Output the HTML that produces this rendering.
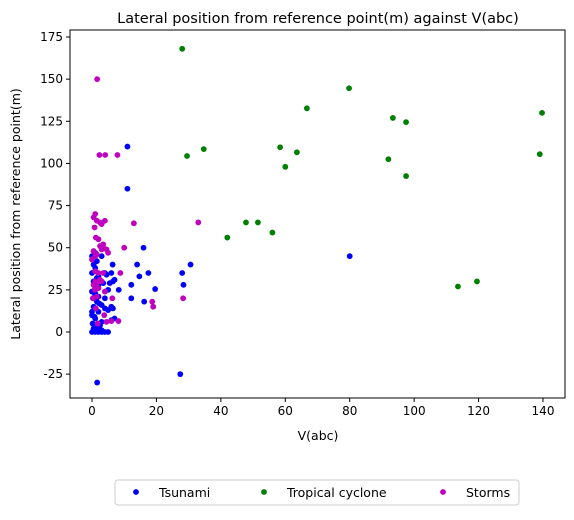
<!DOCTYPE html>
<html><head><meta charset="utf-8"><style>
body{margin:0;background:#fff;font-family:"Liberation Sans","DejaVu Sans",sans-serif}
svg text{font-family:"DejaVu Sans","Liberation Sans",sans-serif}
</style></head><body>
<svg id="chart" width="574" height="515"></svg>
<script>
const tsunamiX=[11,11,16,6.4,14,17.5,14.7,12.2,19.6,8.3,12.2,16.2,6,6.5,7,30.6,28,28.4,27.4,1.6,80,0,1,2,3,4,5,0.5,1.5,2.5,0,1,2,3,4,5,6,0.5,1.5,3,0.3,1,2,4,0,1,2,3,5,0.5,1.8,0,1,2,4,6,0.5,1.5,3,0,1,0.2,1.2,2,3,1,0,0.8,2.2,1,3.5,1.5,4.5,6.5,5.5,7];
const tsunamiY=[110,85,50,40,40,35,33,28,25.5,25,20,18,15,14,8,40,35,28,-25,-30,45,0,0,0,0,0,0,2,3,4,10,8,12,6,14,13,7,15,18,16,20,22,21,20,24,26,28,30,25,30,27,35,36,33,35,35,40,42,45,45,47,5,4,2,1,38,12,9,17,23,29,32,34,30,29,31];
const tcX=[28,79.8,66.7,139.7,93.4,97.5,58.4,34.7,29.5,63.6,60,92,97.5,139,42,47.8,51.5,56,113.6,119.5];
const tcY=[168,144.6,132.7,130,127,124.5,109.6,108.5,104.4,106.6,98,102.5,92.5,105.5,56,65,65,59,27,30];
const stormX=[1.6,2.3,4.1,7.9,33,13,10,8.8,6.3,18.7,19,28.3,6,8.2,1,0.5,1.5,2.5,3,4,0.8,1.2,2,3,3.5,0.5,1,1.5,2.5,3.5,4.5,5,0,1,2,3.5,1,2.5,0.5,1.5,3,0.8,2,4,0.3,1.5,1.2,1.8,3.8,4.5];
const stormY=[150,105,105,105,65,64.5,50,35,20,18,15,20,6.5,6.5,70,68,66,65,64,66,62,56,55,49,50,48,45,46,51,52,49,47,43,36,35,35,30,31,28,29,30,25,26,24,20,21,14,5,10,6];
const xTicks=[0,20,40,60,80,100,120,140];
const yTicks=[-25,0,25,50,75,100,125,150,175];
const NS="http://www.w3.org/2000/svg";
const svg=document.getElementById('chart');
const L=70,R=565,T=30,B=398;
const xs=v=>92+v*(543-92)/140;
const ys=v=>332-v*(295/175);
function el(t,a,p){const e=document.createElementNS(NS,t);for(const k in a)e.setAttribute(k,a[k]);(p||svg).appendChild(e);return e;}
const title=el('text',{x:318,y:23,'text-anchor':'middle','font-size':14.5,fill:'#000'});


title.textContent='Lateral position from reference point(m) against V(abc)';
xTicks.forEach(v=>{
  const l=el('line',{x1:xs(v),x2:xs(v),y1:B,y2:B+4,stroke:'#000'});
  
  
  const t=el('text',{x:xs(v),y:B+17,'text-anchor':'middle','font-size':12});
  
  
  t.textContent=v;
});
yTicks.forEach(v=>{
  const l=el('line',{x1:L-4,x2:L,y1:ys(v),y2:ys(v),stroke:'#000'});
  
  
  const t=el('text',{x:L-7,y:ys(v)+4,'text-anchor':'end','font-size':12});
  
  
  t.textContent=v;
});
const xl=el('text',{x:318,y:440,'text-anchor':'middle','font-size':12.5});


xl.textContent='V(abc)';
const yl=el('text',{x:0,y:0,'text-anchor':'middle','font-size':12.5,transform:'translate(20,214) rotate(-90)'});


yl.textContent='Lateral position from reference point(m)';
function series(X,Y,c,name){
  const g=el('g',{fill:c});
  
  
  X.forEach((x,i)=>{
    const p=el('circle',{cx:xs(x),cy:ys(Y[i]),r:2.9},g);
    
    
  });
}
series(tsunamiX,tsunamiY,'#0000ff','tsunami');
series(tcX,tcY,'#008000','tropical-cyclone');
series(stormX,stormY,'#bf00bf','storms');
const fr=el('rect',{x:L,y:T,width:R-L,height:B-T,fill:'none',stroke:'#000','stroke-width':1});


const lg=el('g',{});


el('rect',{x:115,y:480,width:404,height:25,rx:3,fill:'#fff',stroke:'#ccc'},lg);
[['Tsunami','#0000ff',136],['Tropical cyclone','#008000',264],['Storms','#bf00bf',443]].forEach(([n,c,x])=>{
  const d=el('circle',{cx:x,cy:492,r:2.9,fill:c},lg);
  
  
  const t=el('text',{x:x+23,y:497,'font-size':12.5},lg);
  
  
  t.textContent=n;
});
</script>
</body></html>
